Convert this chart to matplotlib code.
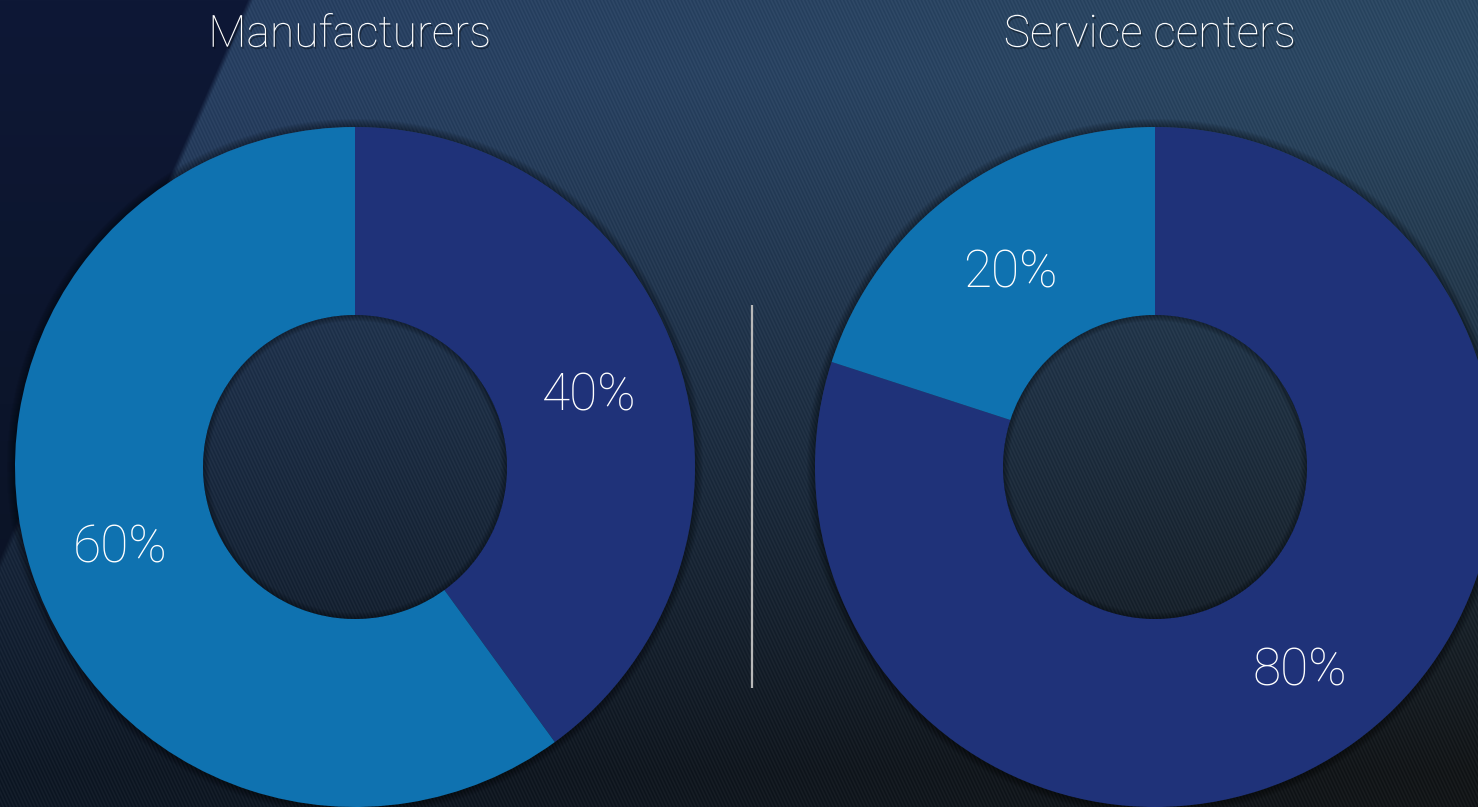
import numpy as np
import matplotlib
matplotlib.use('Agg')
import matplotlib.pyplot as plt
from matplotlib.patches import Wedge
import matplotlib.patheffects as pe

# 数据
titles = ['Manufacturers', 'Service centers']
left_values = [40, 60]
right_values = [80, 20]
dark_blue = '#1f3279'
light_blue = '#0f72b0'
font = ['Roboto', 'DejaVu Sans']

W, H = 1478, 807
fig = plt.figure(figsize=(W / 100, H / 100), dpi=100)
ax = fig.add_axes([0, 0, 1, 1])

# 背景：渐变 + 细斜纹
yy, xx = np.mgrid[0:H, 0:W].astype(float)
u = xx / W
v = yy / H
tl = np.array([0x28, 0x3f, 0x62]) / 255
tr = np.array([0x2c, 0x48, 0x62]) / 255
bl = np.array([0x10, 0x1a, 0x27]) / 255
br = np.array([0x14, 0x17, 0x19]) / 255
vv = np.clip(v * 1.15 - 0.1, 0, 1) ** 1.1
bg = ((1 - u)[..., None] * (1 - vv)[..., None] * tl + u[..., None] * (1 - vv)[..., None] * tr
      + (1 - u)[..., None] * vv[..., None] * bl + u[..., None] * vv[..., None] * br)
# 左侧深蓝区域
edge = 250 - 0.444 * yy
mask = np.clip((edge - xx) / 6 + 0.5, 0, 1)
dark = np.array([0x0e, 0x18, 0x36]) / 255
dark_b = np.array([0x0a, 0x12, 0x20]) / 255
dk = (1 - v)[..., None] * dark + v[..., None] * dark_b
bg = bg * (1 - mask[..., None]) + dk * mask[..., None]
# 细纹理
stripe = np.sin((xx * 0.906 - yy * 0.423) * 2 * np.pi / 3.2)
bg = np.clip(bg + (0.02 * stripe * (1 - mask))[..., None], 0, 1)
ax.imshow(bg, extent=(0, W, 0, H), origin='upper', zorder=0)

centers = [(355, 340), (1155, 340)]
r_out, r_in = 340, 152

for center, vals, title in zip(centers, [left_values, right_values], titles):
    # 外阴影（环）
    for k in range(1, 9):
        ax.add_patch(Wedge(center, r_out + k, 0, 360, width=k, color='black',
                           alpha=0.05, lw=0, zorder=1))
    _, _, pcts = ax.pie(vals, colors=[dark_blue, light_blue], startangle=90,
                        counterclock=False, center=center, radius=r_out,
                        wedgeprops=dict(width=r_out - r_in, linewidth=0, zorder=2),
                        autopct=lambda p: f'{p:.0f}%', pctdistance=0.725,
                        textprops=dict(color='white', fontsize=37, family=font,
                                       fontweight='light', zorder=4))
    for t in pcts:
        t.set_va('center_baseline')
    # 内圈阴影
    for k in range(1, 7):
        ax.add_patch(Wedge(center, r_in, 0, 360, width=k, color='black', alpha=0.06,
                           lw=0, zorder=3))
    ax.text(center[0] - 5, H - 30, title, color='white', fontsize=32,
            family=font, fontweight='light',
            ha='center', va='center_baseline', zorder=5,
            path_effects=[pe.withSimplePatchShadow(offset=(1, -1.5), shadow_rgbFace='black',
                                                   alpha=0.4)])

# 中间分隔线
ax.plot([752, 752], [H - 305, H - 688], color='#b8b8b8', lw=1.6, zorder=3,
        solid_capstyle='butt')

ax.set_xlim(0, W)
ax.set_ylim(0, H)
ax.set_aspect('auto')
ax.axis('off')

fig.savefig('out.png', dpi=100)
